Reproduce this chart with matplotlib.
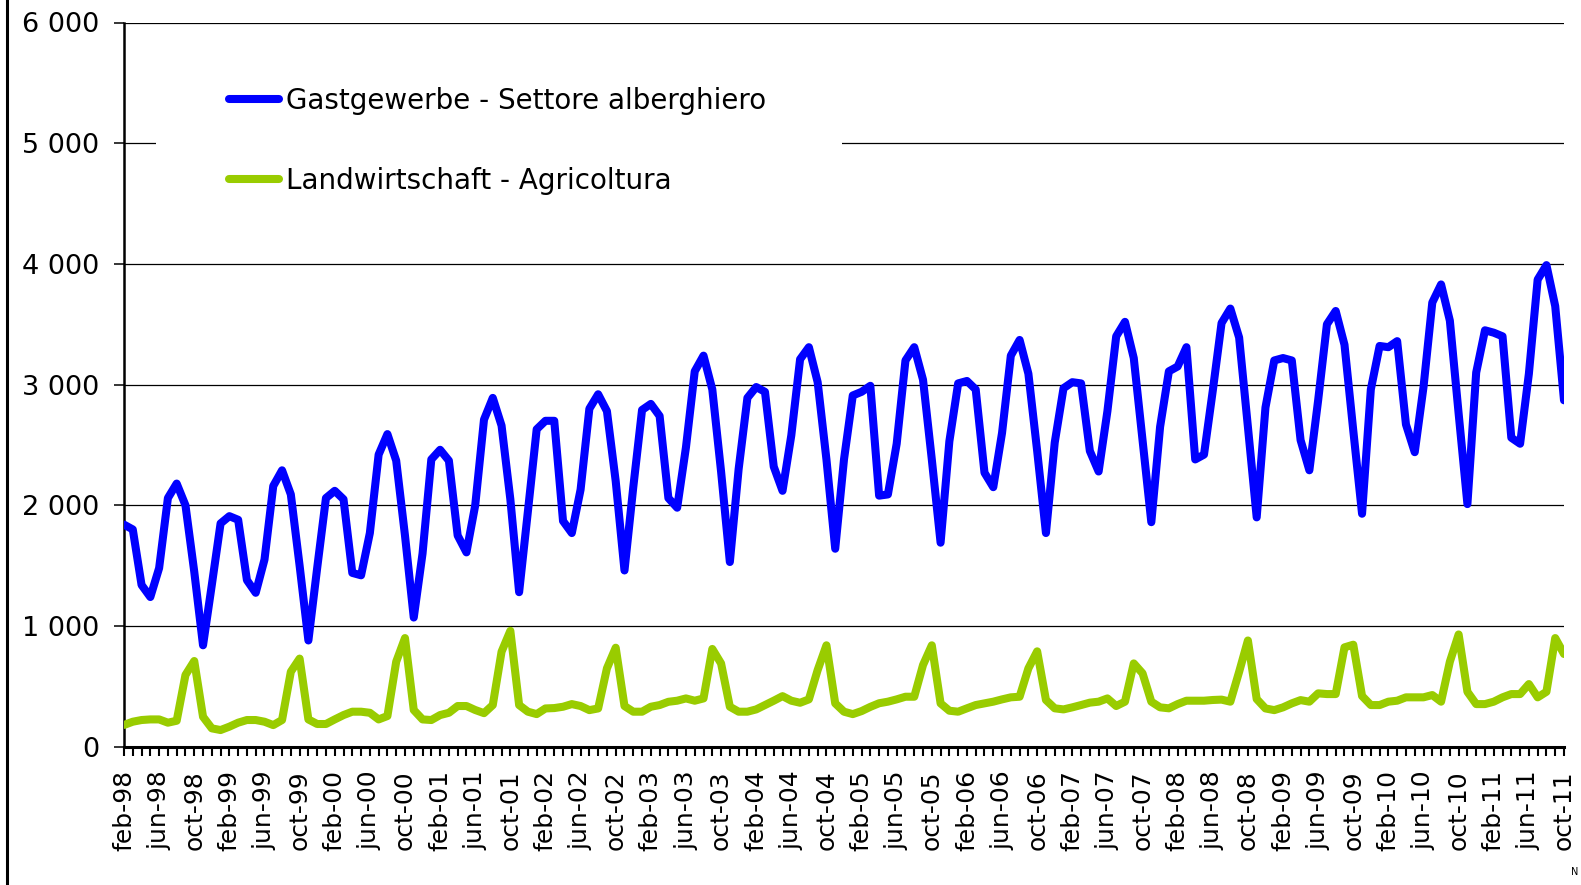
import numpy as np
import matplotlib.pyplot as plt
from matplotlib.patches import Rectangle
from matplotlib.lines import Line2D
from matplotlib.ticker import FixedLocator, FuncFormatter

# monthly series, feb-98 .. oct-11
gastgewerbe = [1840, 1800, 1340, 1240, 1480, 2060, 2180, 2000, 1450, 840, 1340, 1850,
               1910, 1880, 1380, 1275, 1550, 2160, 2290, 2090, 1500, 880, 1480, 2060,
               2120, 2050, 1440, 1420, 1770, 2420, 2590, 2370, 1750, 1070, 1600, 2380,
               2460, 2370, 1750, 1610, 2000, 2710, 2890, 2660, 2050, 1280, 1950, 2630,
               2700, 2700, 1870, 1770, 2130, 2800, 2920, 2780, 2200, 1460, 2150, 2790,
               2840, 2740, 2060, 1980, 2480, 3110, 3240, 2960, 2280, 1530, 2300, 2890,
               2980, 2940, 2320, 2120, 2580, 3210, 3310, 3020, 2380, 1640, 2380, 2910,
               2940, 2990, 2080, 2090, 2510, 3200, 3310, 3040, 2380, 1690, 2530, 3010,
               3030, 2960, 2270, 2150, 2600, 3240, 3370, 3090, 2450, 1770, 2520, 2970,
               3020, 3010, 2450, 2280, 2780, 3400, 3520, 3220, 2540, 1860, 2650, 3110,
               3150, 3310, 2380, 2420, 2950, 3510, 3630, 3390, 2650, 1900, 2810, 3200,
               3220, 3200, 2540, 2290, 2870, 3500, 3610, 3330, 2620, 1930, 2960, 3320,
               3310, 3360, 2670, 2440, 2980, 3680, 3830, 3530, 2760, 2010, 3100, 3450,
               3430, 3400, 2560, 2510, 3090, 3870, 3990, 3650, 2870]

landwirtschaft = [180, 207, 221, 226, 226, 199, 215, 594, 710, 248, 152, 138,
                  166, 199, 221, 221, 207, 179, 221, 621, 730, 226, 188, 188,
                  226, 262, 290, 290, 281, 226, 254, 704, 900, 304, 226, 221,
                  262, 281, 337, 337, 304, 278, 345, 787, 960, 345, 290, 270,
                  317, 320, 331, 353, 337, 303, 317, 649, 820, 337, 290, 290,
                  331, 345, 372, 381, 400, 381, 400, 810, 690, 331, 290, 290,
                  309, 345, 381, 419, 381, 364, 392, 635, 840, 359, 290, 270,
                  295, 330, 360, 373, 392, 414, 414, 677, 840, 359, 298, 290,
                  318, 345, 359, 373, 392, 409, 414, 649, 790, 387, 318, 309,
                  326, 345, 365, 373, 400, 337, 373, 690, 608, 373, 326, 318,
                  353, 381, 381, 381, 387, 390, 373, 620, 880, 395, 317, 303,
                  326, 359, 386, 373, 442, 436, 436, 823, 845, 420, 345, 345,
                  373, 381, 409, 409, 409, 428, 373, 704, 930, 455, 353, 353,
                  373, 409, 436, 436, 519, 409, 455, 900, 768]

month_abbr = ['jan', 'feb', 'mar', 'apr', 'may', 'jun',
              'jul', 'aug', 'sep', 'oct', 'nov', 'dec']
n = len(gastgewerbe)
months = ["%s-%02d" % (month_abbr[(1 + k) % 12], (98 + (1 + k) // 12) % 100)
          for k in range(n)]

label_gast = 'Gastgewerbe - Settore alberghiero'
label_land = 'Landwirtschaft - Agricoltura'

plt.rcParams['font.family'] = ['DejaVu Sans']

fig = plt.figure(figsize=(15.81, 8.85), dpi=100)
ax = fig.add_axes([124 / 1581, 138.3 / 885, 1440 / 1581, 724.2 / 885])

x = np.arange(n)
ax.plot(x, gastgewerbe, color='#0000ff', lw=5.8, solid_joinstyle='round',
        solid_capstyle='round', label=label_gast, zorder=4)
ax.plot(x, landwirtschaft, color='#99cc00', lw=5.8, solid_joinstyle='round',
        solid_capstyle='round', label=label_land, zorder=4)

ax.set_xlim(0, n - 1)
ax.set_ylim(0, 6000)
ax.set_yticks(range(0, 6001, 1000))
ax.yaxis.set_major_formatter(FuncFormatter(lambda v, p: ('%d' % v) if v < 1000
                                           else '%d %03d' % (v // 1000, v % 1000)))
ax.xaxis.set_major_locator(FixedLocator(range(0, n, 4)))
ax.xaxis.set_minor_locator(FixedLocator(range(n)))
ax.set_xticklabels(months[::4], rotation=90)

ax.grid(axis='y', color='black', lw=0.9, zorder=1)
ax.set_axisbelow(True)
for s in ['top', 'right']:
    ax.spines[s].set_visible(False)
ax.spines['left'].set_linewidth(1.8)
ax.spines['bottom'].set_linewidth(2.2)
ax.tick_params(axis='y', length=7.2, width=1.1, labelsize=19.5, pad=10.5)
ax.tick_params(axis='x', which='both', length=6.5, width=1.5, labelsize=18, pad=10.5)

# white legend box over the gridline
ax.add_patch(Rectangle((32 / 1440, 0.734), 686 / 1440, 0.242, transform=ax.transAxes,
                       facecolor='white', edgecolor='none', zorder=2, clip_on=False))
leg = ax.legend(loc='upper left', bbox_to_anchor=(105 / 1440, 0.911), frameon=False,
                fontsize=20, handlelength=1.8, handletextpad=0.25, labelspacing=1.86,
                borderpad=0, borderaxespad=0)
leg.set_zorder(5)

fig.add_artist(Line2D([0.0042, 0.0042], [0, 1], color='black', lw=2.2))
fig.text(1571 / 1581, 1 - 872 / 885, 'N', fontsize=7, ha='left', va='center')

fig.savefig('out.png', dpi=100)
